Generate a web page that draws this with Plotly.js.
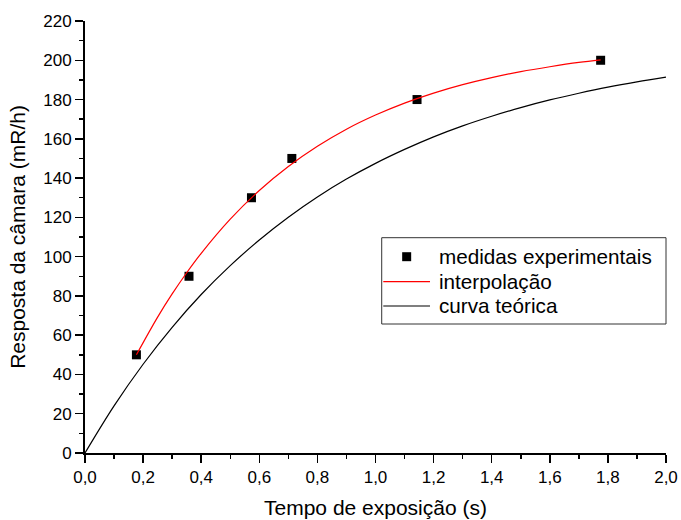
<!DOCTYPE html>
<html>
<head>
<meta charset="utf-8">
<script src="https://cdn.plot.ly/plotly-3.0.1.min.js"></script>
<style>html,body{margin:0;padding:0;background:#fff;}#chart{width:681px;height:520px;}</style>
</head>
<body>
<div id="chart"></div>
<script>
// Experimental measurements
const measX = [0.177, 0.358, 0.573, 0.712, 1.143, 1.775];
const measY = [50, 90, 130, 150, 180, 200];

// Interpolation curve (red)
const interpX = [0.177, 0.25, 0.3, 0.35, 0.4, 0.5, 0.6, 0.7, 0.8, 0.9, 1.0, 1.1, 1.2, 1.3, 1.4, 1.5, 1.6, 1.7, 1.775];
const interpY = [50.0, 69.2, 81.0, 91.8, 101.7, 119.1, 133.7, 145.9, 156.2, 164.9, 172.1, 178.2, 183.3, 187.6, 191.2, 194.2, 196.7, 198.9, 200.2];

// Theoretical curve (black)
const theoX = [0, 0.1, 0.2, 0.3, 0.4, 0.5, 0.6, 0.7, 0.8, 0.9, 1.0, 1.1, 1.2, 1.3, 1.4, 1.5, 1.6, 1.7, 1.8, 1.9, 2.0];
const theoY = [0, 24.0, 45.2, 64.0, 80.7, 95.4, 108.5, 120.1, 130.4, 139.5, 147.5, 154.6, 161.0, 166.6, 171.5, 175.9, 179.8, 183.2, 186.3, 189.0, 191.4];

const xTitle = 'Tempo de exposição (s)';
const yTitle = 'Resposta da câmara (mR/h)';
const names = ['medidas experimentais', 'interpolação', 'curva teórica'];

const FONT = 'Liberation Sans, Arial, sans-serif';

const traces = [
  {x: measX, y: measY, mode: 'markers', type: 'scatter', name: names[0],
   marker: {symbol: 'square', size: 9, color: '#000'}, cliponaxis: false},
  {x: interpX, y: interpY, mode: 'lines', type: 'scatter', name: names[1],
   line: {color: '#ff0000', width: 1.2, shape: 'spline'}},
  {x: theoX, y: theoY, mode: 'lines', type: 'scatter', name: names[2],
   line: {color: '#000', width: 1.2, shape: 'spline'}}
];

const axisCommon = {
  showgrid: false, zeroline: false, showline: true, linecolor: '#000', linewidth: 2,
  ticks: 'outside', ticklen: 8, tickwidth: 1.5, tickcolor: '#000',
  tickfont: {family: FONT, size: 17, color: '#000'},
  mirror: false
};

// Legend box drawn in paper coordinates
const legendBox = {x0: 0.5107, x1: 1.0, y0: 0.2986, y1: 0.4984};
const rowY = [0.4553, 0.3965, 0.3403];
const symX0 = 0.5134, symX1 = 0.5938, textX = 0.6053;

const shapes = [
  {type: 'rect', xref: 'paper', yref: 'paper', x0: legendBox.x0, x1: legendBox.x1, y0: legendBox.y0, y1: legendBox.y1,
   line: {color: '#333', width: 1}, fillcolor: 'rgba(0,0,0,0)', layer: 'above'},
  {type: 'rect', xref: 'paper', yref: 'paper', x0: 0.5459, x1: 0.5614, y0: 0.4440, y1: 0.4648,
   line: {width: 0}, fillcolor: '#000', layer: 'above'},
  {type: 'line', xref: 'paper', yref: 'paper', x0: symX0, x1: symX1, y0: rowY[1], y1: rowY[1],
   line: {color: '#ff0000', width: 1.2}},
  {type: 'line', xref: 'paper', yref: 'paper', x0: symX0, x1: symX1, y0: rowY[2], y1: rowY[2],
   line: {color: '#000', width: 1.2}}
];

const annotations = names.map((n, i) => ({
  text: n, xref: 'paper', yref: 'paper', x: textX, y: rowY[i], xanchor: 'left', yanchor: 'middle',
  showarrow: false, font: {family: FONT, size: 20.7, color: '#000'}
}));

const layout = {
  width: 681, height: 520,
  margin: {l: 85, r: 15, t: 21, b: 67},
  paper_bgcolor: '#fff', plot_bgcolor: '#fff',
  separators: ',.',
  font: {family: FONT, color: '#000'},
  showlegend: false,
  shapes: shapes,
  annotations: annotations,
  xaxis: Object.assign({}, axisCommon, {
    range: [0, 2.0], dtick: 0.2, tick0: 0, tickformat: '.1f',
    minor: {ticks: 'outside', ticklen: 4, tickwidth: 1.5, tickcolor: '#000', dtick: 0.1},
    title: {text: xTitle, font: {family: FONT, size: 21, color: '#000'}, standoff: 14}
  }),
  yaxis: Object.assign({}, axisCommon, {
    range: [0, 220], dtick: 20, tick0: 0,
    minor: {ticks: 'outside', ticklen: 4, tickwidth: 1.5, tickcolor: '#000', dtick: 10},
    title: {text: yTitle, font: {family: FONT, size: 21, color: '#000'}, standoff: 12}
  })
};

Plotly.newPlot('chart', traces, layout, {displayModeBar: false, staticPlot: true});
</script>
</body>
</html>
